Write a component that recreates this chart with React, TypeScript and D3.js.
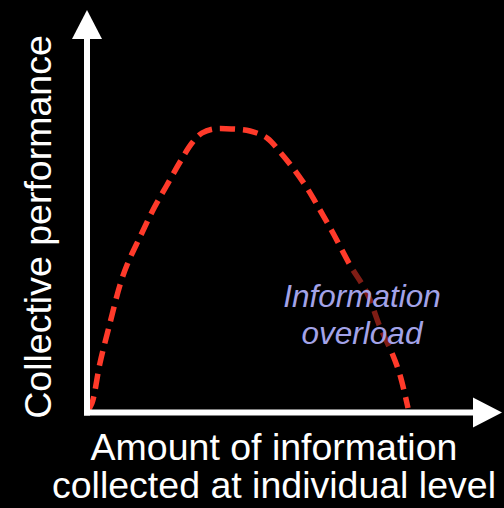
import React from "react";
import * as d3 from "d3";

const curveX = [0, 1, 3, 5.5, 8, 9.75, 13, 16.25, 19.75, 23, 26, 28.5, 31.25, 36.25, 40.5, 44.75, 48, 51.25, 54.75, 58, 61.25, 65.5, 69.75, 73, 76, 78, 80];
const curveY = [0.5, 2.25, 12.25, 22.25, 31.75, 36.75, 43.75, 50.5, 56.75, 62.5, 67.25, 69.75, 70.75, 70.75, 70.25, 68.5, 65, 61, 56, 50.5, 44.75, 36.75, 29.75, 21.25, 14.75, 9.25, 1];

const yLabel = "Collective performance";
const xLabelLines = ["Amount of information", "collected at individual level"];
const noteLines = ["Information", "overload"];

const W = 504;
const H = 508;
const FONT = "'Liberation Sans', Arial, Helvetica, sans-serif";

export default function App() {
  const x = d3.scaleLinear().domain([0, 100]).range([88, 488]);
  const y = d3.scaleLinear().domain([0, 100]).range([412, 12]);
  const pts: [number, number][] = curveX.map((v, i) => [x(v), y(curveY[i])]);
  const line = d3.line().curve(d3.curveCatmullRom.alpha(0.5))(pts) || "";

  const ox = 87;
  const oy = 412.5;

  return (
    <div style={{ position: "fixed", left: 0, top: 0, width: W, height: H, background: "#000" }}>
      <svg width={W} height={H} style={{ display: "block" }}>
        <rect x={0} y={0} width={W} height={H} fill="#000" />
        <path d={line} fill="none" stroke="#ff3a2a" strokeWidth={5.5} strokeDasharray="15 8" />
        {/* semi-transparent text box */}
        <rect x={280} y={268} width={165} height={83} fill="#000" fillOpacity={0.5} />
        {/* axes */}
        <line x1={ox} y1={38} x2={ox} y2={415.5} stroke="#fff" strokeWidth={6} />
        <line x1={84} y1={oy} x2={474} y2={oy} stroke="#fff" strokeWidth={6} />
        <polygon points={`${ox},10 ${ox - 15},39 ${ox + 15},39`} fill="#fff" />
        <polygon points={`502,${oy} 473,${oy - 15} 473,${oy + 15}`} fill="#fff" />
        {/* labels */}
        <text
          transform={`translate(51,227) rotate(-90)`}
          textAnchor="middle"
          fontFamily={FONT}
          fontSize={37.5}
          fill="#fff"
        >
          {yLabel}
        </text>
        {xLabelLines.map((t, i) => (
          <text
            key={t}
            x={274}
            y={460 + i * 38}
            textAnchor="middle"
            fontFamily={FONT}
            fontSize={37.5}
            fill="#fff"
          >
            {t}
          </text>
        ))}
        {noteLines.map((t, i) => (
          <text
            key={t}
            x={362}
            y={307 + i * 36.5}
            textAnchor="middle"
            fontFamily={FONT}
            fontSize={31.5}
            fontStyle="italic"
            fill="#a3a3e8"
          >
            {t}
          </text>
        ))}
      </svg>
    </div>
  );
}
